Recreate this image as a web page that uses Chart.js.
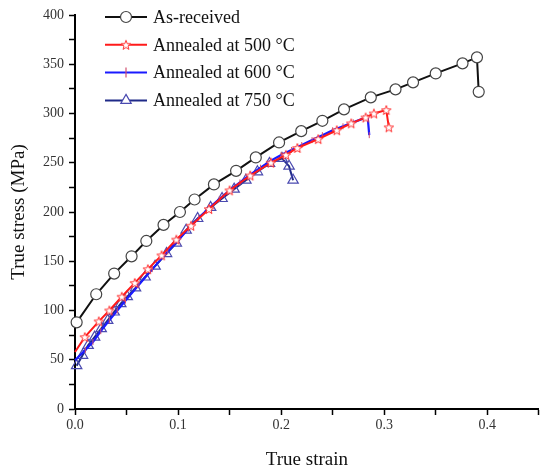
<!DOCTYPE html>
<html>
<head>
<meta charset="utf-8">
<script src="https://cdn.jsdelivr.net/npm/chart.js@4.4.1/dist/chart.umd.min.js"></script>
<style>
  body { margin: 0; background: #fff; }
  #wrap { width: 546px; height: 473px; }
</style>
</head>
<body>
<div id="wrap"><canvas id="stressChart" width="546" height="473"></canvas></div>
<script>
// values
const asReceivedStrain = [0.0016, 0.0206, 0.038, 0.0549, 0.0692, 0.0859, 0.1018, 0.116, 0.1348, 0.1563, 0.1754, 0.198, 0.2195, 0.240, 0.261, 0.287, 0.311, 0.328, 0.350, 0.376, 0.390, 0.3917];
const asReceivedStress = [88, 116.5, 137.5, 155, 170.6, 186.9, 200, 212.7, 228, 241.8, 255.4, 270.6, 282.1, 292.6, 304.2, 316.4, 324.5, 331.6, 340.7, 350.9, 357, 322];

const a500Strain = [0, 0.0095, 0.0231, 0.0333, 0.0454, 0.058, 0.0707, 0.084, 0.0983, 0.1126, 0.13, 0.15, 0.17, 0.19, 0.2046, 0.2157, 0.236, 0.254, 0.268, 0.282, 0.290, 0.302, 0.3045];
const a500Stress = [57.8, 73, 89, 100, 114, 128, 142, 156, 172, 186, 203, 222, 237, 250, 258, 265, 274, 283, 290, 296, 300, 303.5, 286];

const a600Strain = [0, 0.01, 0.0174, 0.025, 0.0333, 0.041, 0.049, 0.062, 0.075, 0.09, 0.10, 0.11, 0.12, 0.13, 0.14, 0.15, 0.16, 0.17, 0.18, 0.19, 0.20, 0.21, 0.22, 0.23, 0.24, 0.25, 0.26, 0.27, 0.28, 0.284, 0.2855];
const a600Stress = [49.4, 60, 68, 79, 90, 100, 110, 126, 142, 160, 171, 183, 194, 204, 213, 222, 230, 238, 245, 252, 258, 263, 268, 273, 278, 283, 287, 291, 295, 296, 278];

const a750Strain = [0.0016, 0.0073, 0.0127, 0.019, 0.0254, 0.0317, 0.038, 0.0444, 0.0507, 0.0587, 0.068, 0.0777, 0.0888, 0.0983, 0.1078, 0.119, 0.1316, 0.1427, 0.1544, 0.1658, 0.177, 0.1887, 0.2008, 0.2077, 0.2116];
const a750Stress = [44, 54.5, 64.6, 73, 81.6, 90, 98.5, 107, 114, 123, 134, 145, 157.8, 168.5, 181.5, 193.4, 204.6, 213.7, 223.2, 232.3, 240.8, 249.3, 254.4, 246.5, 232.3];

const seriesLabels = ['As-received', 'Annealed at 500 °C', 'Annealed at 600 °C', 'Annealed at 750 °C'];

const xTicks = [0, 0.1, 0.2, 0.3, 0.4];
const yTicks = [0, 50, 100, 150, 200, 250, 300, 350, 400];

const toPoints = (xs, ys) => xs.map((x, i) => ({ x: x, y: ys[i] }));
const FONT = '"Liberation Serif", "DejaVu Serif", serif';

// hollow five-point star marker (Chart.js 'star' is an asterisk)
function makeStar(size, color) {
    const c = document.createElement('canvas');
    c.width = size; c.height = size;
    const g = c.getContext('2d');
    const cx = size / 2, cy = size / 2 + 0.5, R = size / 2 - 1, r = R * 0.42;
    g.beginPath();
    for (let i = 0; i < 10; i++) {
        const rad = i % 2 === 0 ? R : r;
        const a = -Math.PI / 2 + i * Math.PI / 5;
        const px = cx + rad * Math.cos(a), py = cy + rad * Math.sin(a);
        if (i === 0) g.moveTo(px, py); else g.lineTo(px, py);
    }
    g.closePath();
    g.fillStyle = '#fff';
    g.fill();
    g.strokeStyle = color;
    g.lineWidth = 1;
    g.stroke();
    return c;
}
const starMarker = makeStar(12, '#ff3030');

// legend drawn as line + marker, like the Origin plot
const curveLegend = {
    id: 'curveLegend',
    afterDraw(chart) {
        const ctx = chart.ctx;
        chart.data.datasets.forEach((ds, i) => {
            const y = 17 + i * 27.8;
            ctx.save();
            ctx.strokeStyle = ds.borderColor;
            ctx.lineWidth = 2;
            ctx.beginPath();
            ctx.moveTo(105, y);
            ctx.lineTo(147, y);
            ctx.stroke();
            ctx.fillStyle = ds.legendFill;
            ctx.strokeStyle = ds.pointBorderColor;
            ctx.lineWidth = 1.2;
            Chart.helpers.drawPoint(ctx, {
                pointStyle: ds.pointStyle,
                rotation: ds.pointRotation || 0,
                radius: ds.legendRadius,
                borderWidth: 1.2
            }, 126, y);
            ctx.fillStyle = '#111';
            ctx.font = '18px ' + FONT;
            ctx.textBaseline = 'middle';
            ctx.fillText(ds.label, 153, y + 1);
            ctx.restore();
        });
    }
};

const ctx = document.getElementById('stressChart');
new Chart(ctx, {
    type: 'scatter',
    data: {
        datasets: [{
            label: seriesLabels[0],
            data: toPoints(asReceivedStrain, asReceivedStress),
            showLine: true,
            borderColor: '#111',
            borderWidth: 2,
            pointStyle: 'circle',
            pointRadius: 5.5,
            pointBorderColor: '#444',
            pointBackgroundColor: '#fff',
            pointBorderWidth: 1.2,
            legendFill: '#fff',
            legendRadius: 5.5,
            clip: false
        }, {
            label: seriesLabels[1],
            data: toPoints(a500Strain, a500Stress),
            showLine: true,
            borderColor: '#ff1a1a',
            borderWidth: 2,
            pointStyle: starMarker,
            pointRadius: (c) => c.dataIndex === 0 ? 0 : 5,
            pointBorderColor: '#ff4040',
            pointBackgroundColor: '#fff',
            legendFill: '#fff',
            legendRadius: 5,
            clip: false
        }, {
            label: seriesLabels[2],
            data: toPoints(a600Strain, a600Stress),
            showLine: true,
            borderColor: '#1a1aff',
            borderWidth: 2.2,
            pointStyle: 'line',
            pointRotation: 90,
            rotation: 90,
            pointRadius: (c) => c.dataIndex === 0 ? 0 : 3,
            pointBorderColor: '#d05070',
            pointBackgroundColor: '#d05070',
            pointBorderWidth: 1,
            legendFill: '#d05070',
            legendRadius: 5,
            clip: false
        }, {
            label: seriesLabels[3],
            data: toPoints(a750Strain, a750Stress),
            showLine: true,
            borderColor: '#1f2a88',
            borderWidth: 2,
            pointStyle: 'triangle',
            pointRadius: 6,
            pointBorderColor: '#4a4ab0',
            pointBackgroundColor: 'rgba(255,255,255,0)',
            pointBorderWidth: 1.2,
            legendFill: '#fff',
            legendRadius: 6,
            clip: false
        }]
    },
    options: {
        responsive: false,
        animation: false,
        layout: { padding: { top: 15, right: 0, left: 0, bottom: 0 } },
        plugins: {
            legend: { display: false },
            tooltip: { enabled: false }
        },
        scales: {
            x: {
                type: 'linear',
                min: 0,
                max: 0.45,
                afterFit: (scale) => { scale.height = 64; },
                afterBuildTicks: (scale) => {
                    const t = [];
                    for (let i = 0; i <= 9; i++) t.push({ value: i * 0.05 });
                    scale.ticks = t;
                },
                border: { display: true, color: '#000', width: 2 },
                grid: { drawOnChartArea: false, drawTicks: true, tickLength: 6, tickColor: '#000', tickWidth: 1.5 },
                ticks: {
                    color: '#333',
                    padding: 2,
                    maxRotation: 0,
                    autoSkip: false,
                    font: { family: FONT, size: 14 },
                    callback: (v) => {
                        const hit = xTicks.find(t => Math.abs(t - v) < 1e-6);
                        return hit === undefined ? '' : hit.toFixed(1);
                    }
                },
                title: {
                    display: true,
                    text: 'True strain',
                    color: '#111',
                    font: { family: FONT, size: 19 },
                    padding: { top: 0, bottom: 2 }
                }
            },
            y: {
                min: 0,
                max: 400,
                afterFit: (scale) => { scale.width = 75; },
                afterBuildTicks: (scale) => {
                    const t = [];
                    for (let v = 0; v <= 400; v += 25) t.push({ value: v });
                    scale.ticks = t;
                },
                border: { display: true, color: '#000', width: 2 },
                grid: { drawOnChartArea: false, drawTicks: true, tickLength: 6, tickColor: '#000', tickWidth: 1.5 },
                ticks: {
                    color: '#333',
                    padding: 5,
                    autoSkip: false,
                    font: { family: FONT, size: 14 },
                    callback: (v) => yTicks.includes(v) ? String(v) : ''
                },
                title: {
                    display: true,
                    text: 'True stress (MPa)',
                    color: '#111',
                    font: { family: FONT, size: 19 },
                    padding: { top: 8, bottom: 0 }
                }
            }
        }
    },
    plugins: [curveLegend]
});
</script>
</body>
</html>
